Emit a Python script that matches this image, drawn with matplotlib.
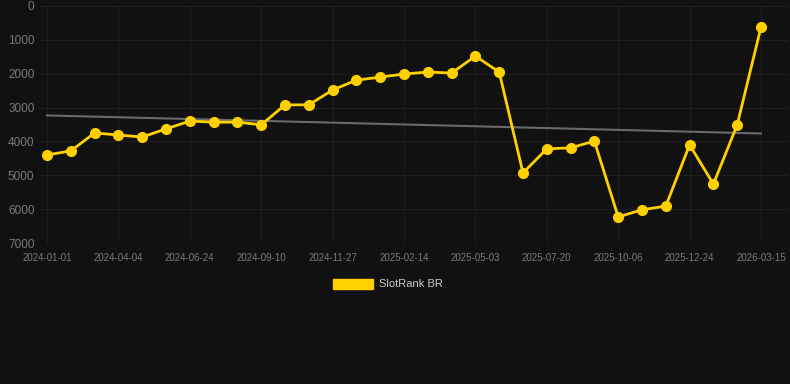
import numpy as np
import matplotlib
matplotlib.use("Agg")
import matplotlib.pyplot as plt
from matplotlib.patches import Patch

plt.rcParams['font.family'] = ['Liberation Sans', 'DejaVu Sans']

# rank per sample (lower is better, axis inverted)
rank = [4400, 4280, 3750, 3810, 3870, 3630, 3400, 3430, 3430, 3510,
        2920, 2920, 2480, 2190, 2100, 2010, 1950, 1980, 1480, 1950,
        4930, 4220, 4190, 3990, 6230, 6020, 5910, 4100, 5260, 3510, 620]
tick_labels = ["2024-01-01", "2024-04-04", "2024-06-24", "2024-09-10",
               "2024-11-27", "2025-02-14", "2025-05-03", "2025-07-20",
               "2025-10-06", "2025-12-24", "2026-03-15"]
y_ticks = [0, 1000, 2000, 3000, 4000, 5000, 6000, 7000]
series_name = "SlotRank BR"

bg = "#111111"
gold = "#FFD000"

fig = plt.figure(figsize=(7.9, 3.84), dpi=100, facecolor=bg)
ax = fig.add_axes([40 / 790, 1 - 243 / 384, 748 / 790, 237 / 384], facecolor=bg)

x = np.arange(len(rank))

# trend line (linear fit)
k, b = np.polyfit(x, rank, 1)
ax.plot(x, k * x + b, color="#6a6a6a", lw=1.5, zorder=2)

ax.plot(x, rank, color=gold, lw=2.0, marker="o", markersize=7, zorder=3)

ax.set_xlim(-7 / 23.8, 30 + 27 / 23.8)
ax.set_ylim(7000, 0)
ax.set_yticks(y_ticks)
ax.set_xticks(x[::3])
ax.set_xticklabels(tick_labels)

ax.grid(True, color="#1e1e1e", lw=0.8)
ax.set_axisbelow(True)
for s in ax.spines.values():
    s.set_visible(False)
ax.tick_params(axis="y", length=0, pad=4, labelsize=8.5, labelcolor="#7a7a7a")
ax.tick_params(axis="x", length=0, pad=7, labelsize=7, labelcolor="#7a7a7a")

fig.legend(handles=[Patch(facecolor=gold, edgecolor=gold)], labels=[series_name],
           loc="center", bbox_to_anchor=(388 / 790, 1 - 284 / 384), frameon=False,
           handlelength=3.6, handleheight=1.0, handletextpad=0.6,
           fontsize=8, labelcolor="#cccccc")

fig.savefig("out.png", dpi=100, facecolor=bg)
